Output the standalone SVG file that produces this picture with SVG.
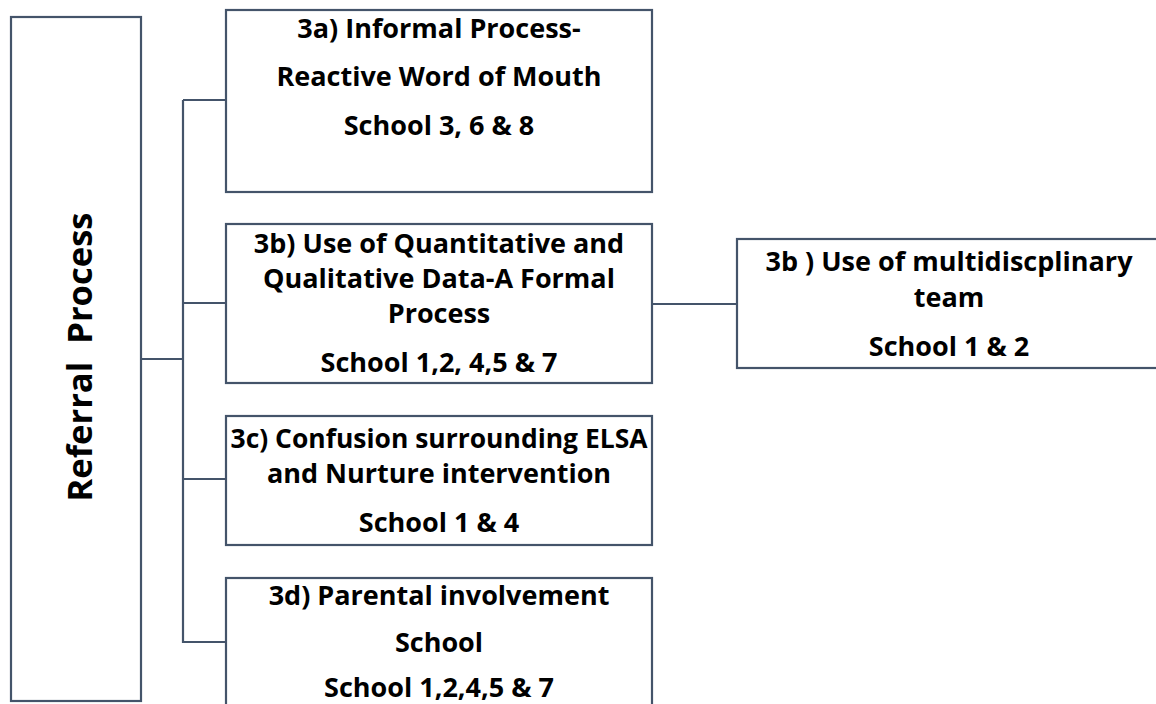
<svg xmlns="http://www.w3.org/2000/svg" width="1156" height="704" viewBox="0 0 1156 704">
<style>
.box{fill:#fff;stroke:#44546A;stroke-width:2.2}
.con{fill:none;stroke:#44546A;stroke-width:2.2}
text{font-family:"Open Sans","Liberation Sans",sans-serif;font-weight:bold;font-size:27px;fill:#000;text-anchor:middle}
.big{font-size:34px;white-space:pre}
</style>
<rect width="1156" height="704" fill="#fff"/>
<g id="connectors">
<path class="con" d="M141 359H183M183 100V643M183 100H226M183 303H226M183 479H226M183 642H226M652 304H737"/>
</g>
<g id="referral">
<rect class="box" x="11" y="17" width="130" height="684"/>
<text class="big" transform="translate(92 357) rotate(-90)" x="0" y="0" textLength="289" lengthAdjust="spacingAndGlyphs">Referral  Process</text>
</g>
<g id="n3a">
<rect class="box" x="226" y="10" width="426" height="182"/>
<text x="439" y="38">3a) Informal Process-</text>
<text x="439" y="86">Reactive Word of Mouth</text>
<text x="439" y="135">School 3, 6 &amp; 8</text>
</g>
<g id="n3b">
<rect class="box" x="226" y="224" width="426" height="159"/>
<text x="439" y="253">3b) Use of Quantitative and</text>
<text x="439" y="288">Qualitative Data-A Formal</text>
<text x="439" y="323">Process</text>
<text x="439" y="372">School 1,2, 4,5 &amp; 7</text>
</g>
<g id="n3b2">
<rect class="box" x="737" y="239" width="424" height="129"/>
<text x="949" y="271">3b ) Use of multidiscplinary</text>
<text x="949" y="307">team</text>
<text x="949" y="356">School 1 &amp; 2</text>
</g>
<g id="n3c">
<rect class="box" x="226" y="416" width="426" height="129"/>
<text x="439" y="448" textLength="417" lengthAdjust="spacingAndGlyphs">3c) Confusion surrounding ELSA</text>
<text x="439" y="483">and Nurture intervention</text>
<text x="439" y="532">School 1 &amp; 4</text>
</g>
<g id="n3d">
<rect class="box" x="226" y="578" width="426" height="140"/>
<text x="439" y="605">3d) Parental involvement</text>
<text x="439" y="652">School</text>
<text x="439" y="697">School 1,2,4,5 &amp; 7</text>
</g>
</svg>
